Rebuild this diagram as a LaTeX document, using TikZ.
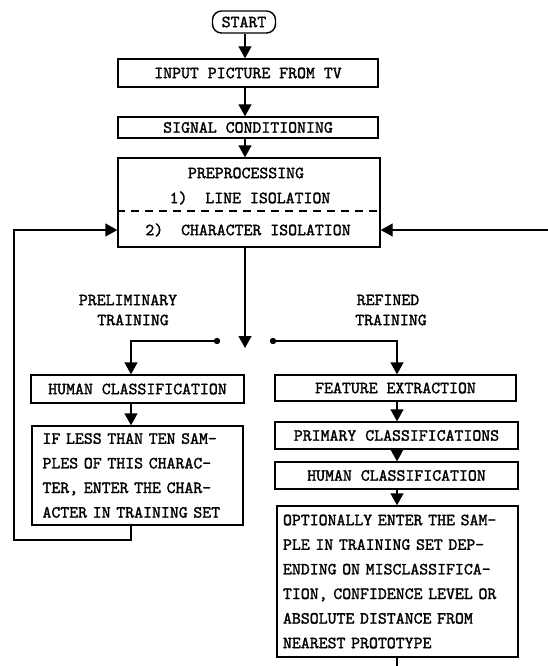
\documentclass[tikz,border=0pt]{standalone}
\usepackage{fontspec}
\setmonofont{lmmono10-regular.otf}[BoldFont=lmmono10-regular.otf,BoldFeatures={FakeBold=1.6}]
\usetikzlibrary{arrows.meta,calc}
\newcommand\mytt{\ttfamily\bfseries\fontsize{17}{24.6}\selectfont}
\begin{document}
\begin{tikzpicture}[x=1pt,y=-1pt,
  ln/.style={line width=1.4pt},
  arr/.style={ln,-{Triangle[width=13pt,length=12pt]}},
  box/.style={draw,ln,rectangle,inner sep=0pt,font=\mytt},
  lbl/.style={font=\mytt,inner sep=0pt}]
\useasboundingbox (0,0) rectangle (548,666);
% coordinates of the vertical flows
\coordinate (cx) at (245,0);
\coordinate (lx) at (131,0);
\coordinate (rx) at (397,0);
% nodes
\node[box,rounded corners=9pt,minimum width=63pt,minimum height=22pt] (start) at (244,22) {START};
\node[box,minimum width=260pt,minimum height=28pt] (input) at (248,73) {INPUT PICTURE FROM TV};
\node[box,minimum width=260pt,minimum height=21pt] (signal) at (248,127.5) {SIGNAL CONDITIONING};
\node[box,minimum width=262pt,minimum height=89pt] (prep) at (249,202.5) {};
\node[lbl] (pt) at (246,173) {PREPROCESSING};
\node[lbl] (p1) at (250,198) {1)\ \ LINE ISOLATION};
\node[lbl] (p2) at (248,230) {2)\ \ CHARACTER ISOLATION};
\draw[ln,dashed,dash pattern=on 8pt off 6pt] (prep.west |- 0,211) -- (prep.east |- 0,211);
% switch
\coordinate (sw) at (245,348);
\fill (217,341) circle (3.2pt) coordinate (dl);
\fill (273,341) circle (3.2pt) coordinate (dr);
\node[lbl] (prel) at (128,300) {PRELIMINARY};
\node[lbl] (tl) at (133,320) {TRAINING};
\node[lbl] (refi) at (388,300) {REFINED};
\node[lbl] (tr) at (391,320) {TRAINING};
% left column
\node[box,minimum width=213pt,minimum height=28pt] (lb1) at (137.5,389) {HUMAN CLASSIFICATION};
\node[box,minimum width=211pt,minimum height=99pt,align=left,text width=190pt] (lb2) at (137.5,475.5)
  {IF LESS THAN TEN SAM-\\PLES OF THIS CHARAC-\\TER, ENTER THE CHAR-\\ACTER IN TRAINING SET};
% right column
\node[box,minimum width=241pt,minimum height=26pt] (rb1) at (395.5,388) {FEATURE EXTRACTION};
\node[box,minimum width=243pt,minimum height=27pt] (rb2) at (396.5,435.5) {PRIMARY CLASSIFICATIONS};
\node[box,minimum width=243pt,minimum height=27pt] (rb3) at (396.5,475.5) {HUMAN CLASSIFICATION};
\node[box,minimum width=241pt,minimum height=151pt,align=left,text width=229pt] (rb4) at (397.5,581.5)
  {OPTIONALLY ENTER THE SAM-\\PLE IN TRAINING SET DEP-\\ENDING ON MISCLASSIFICA-\\TION, CONFIDENCE LEVEL OR\\ABSOLUTE DISTANCE FROM\\NEAREST PROTOTYPE};
% main flow
\draw[arr] (cx |- start.south) -- (cx |- input.north);
\draw[arr] (cx |- input.south) -- (cx |- signal.north);
\draw[arr] (cx |- signal.south) -- (cx |- prep.north);
\draw[arr] (cx |- prep.south) -- (sw);
\draw[arr] (dl) -- (lx |- dl) -- (lx |- lb1.north);
\draw[arr] (dr) -- (rx |- dr) -- (rx |- rb1.north);
\draw[arr] (lx |- lb1.south) -- (lx |- lb2.north);
\draw[arr] (rx |- rb1.south) -- (rx |- rb2.north);
\draw[arr] (rx |- rb2.south) -- (rx |- rb3.north);
\draw[arr] (rx |- rb3.south) -- (rx |- rb4.north);
% feedback loops
\coordinate (fl) at (14,540);
\coordinate (fr) at (548,230);
\coordinate (fb) at (397,666);
\draw[arr] (lx |- lb2.south) -- (lx |- fl) -- (fl) -- (fl |- p2) -- (prep.west |- p2);
\draw[arr] (fr) -- (prep.east |- fr);
\draw[ln] (rx |- rb4.south) -- (fb);
\end{tikzpicture}
\end{document}
